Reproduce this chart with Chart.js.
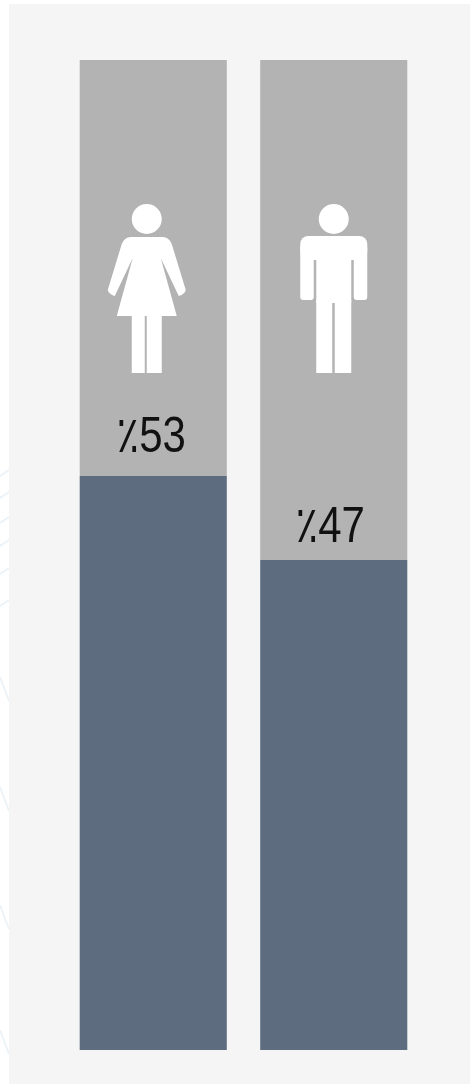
<!DOCTYPE html>
<html>
<head>
<meta charset="utf-8">
<style>
  html, body { margin: 0; padding: 0; background: #ffffff; }
  #panel { position: absolute; left: 9px; top: 4px; width: 461px; height: 1080px; background: #f5f5f5; }
  #wrap { position: absolute; left: 0; top: 0; width: 470px; height: 1084px; }
</style>
<script src="https://cdn.jsdelivr.net/npm/chart.js@4"></script>
</head>
<body>
<div id="panel"></div>
<div id="wrap"><canvas id="myChart"></canvas></div>
<script>
const categories = ['female', 'male'];
const shareValues = [53, 47];
const restValues = [29.7, 35.7];
const shareLabels = ['٪53', '٪47'];

const AXIS_MIN = 12;
const AXIS_MAX = 82.7;

function drawWoman(ctx, cx, top) {
    ctx.beginPath();
    ctx.arc(cx, top + 14, 15, 0, Math.PI * 2);
    ctx.fill();
    ctx.beginPath();
    ctx.moveTo(cx - 16, top + 32);
    ctx.lineTo(cx + 16, top + 32);
    ctx.quadraticCurveTo(cx + 22, top + 32, cx + 25, top + 39);
    ctx.lineTo(cx + 39, top + 85);
    ctx.quadraticCurveTo(cx + 38, top + 89, cx + 32, top + 91);
    ctx.lineTo(cx + 14, top + 53);
    ctx.lineTo(cx + 30, top + 111);
    ctx.lineTo(cx - 30, top + 111);
    ctx.lineTo(cx - 14, top + 53);
    ctx.lineTo(cx - 32, top + 91);
    ctx.quadraticCurveTo(cx - 38, top + 89, cx - 39, top + 85);
    ctx.lineTo(cx - 25, top + 39);
    ctx.quadraticCurveTo(cx - 22, top + 32, cx - 16, top + 32);
    ctx.fill();
    ctx.fillRect(cx - 15, top + 110, 13, 58);
    ctx.fillRect(cx, top + 110, 15, 58);
}

function drawMan(ctx, cx, top) {
    ctx.beginPath();
    ctx.arc(cx, top + 14, 15, 0, Math.PI * 2);
    ctx.fill();
    ctx.beginPath();
    ctx.roundRect(cx - 33.5, top + 31, 67, 24, 8);
    ctx.fill();
    ctx.beginPath();
    ctx.roundRect(cx - 33.5, top + 40, 13.5, 55, 3);
    ctx.roundRect(cx + 20, top + 40, 13.5, 55, 3);
    ctx.fill();
    ctx.fillRect(cx - 17.5, top + 40, 35, 58);
    ctx.fillRect(cx - 17.5, top + 95, 16, 73);
    ctx.fillRect(cx + 1, top + 95, 16.5, 73);
}

// labels are narrower than any installed face, so squeeze them a bit
function drawShare(ctx, text, x, y) {
    ctx.save();
    ctx.translate(x, y);
    ctx.scale(0.84, 1);
    ctx.fillText(text, 0, 0);
    ctx.restore();
}

const barDecor = {
    id: 'barDecor',
    beforeDraw(chart) {
        const ctx = chart.ctx;
        ctx.save();
        ctx.strokeStyle = '#ecf3f8';
        ctx.lineWidth = 2;
        [470, 492, 517, 540, 568, 600].forEach(function (y) {
            ctx.beginPath();
            ctx.moveTo(0, y + 6);
            ctx.lineTo(9, y);
            ctx.stroke();
        });
        [677, 787, 905, 1030].forEach(function (y) {
            ctx.beginPath();
            ctx.moveTo(0, y);
            ctx.lineTo(9, y + 24);
            ctx.stroke();
        });
        ctx.restore();
    },
    afterDatasetsDraw(chart) {
        const ctx = chart.ctx;
        const bars = chart.getDatasetMeta(0).data;
        ctx.save();
        ctx.fillStyle = '#ffffff';
        drawWoman(ctx, bars[0].x - 6.5, 205);
        drawMan(ctx, bars[1].x, 205);
        ctx.fillStyle = '#111111';
        ctx.font = '50px "Liberation Sans", "DejaVu Sans"';
        ctx.letterSpacing = '3px';
        ctx.textAlign = 'center';
        ctx.textBaseline = 'alphabetic';
        ctx.direction = 'ltr';
        drawShare(ctx, shareLabels[0], bars[0].x - 2, bars[0].y - 24);
        drawShare(ctx, shareLabels[1], bars[1].x - 3.5, bars[1].y - 18);
        ctx.restore();
    }
};

new Chart(document.getElementById('myChart'), {
    type: 'bar',
    data: {
        labels: categories,
        datasets: [
            { data: shareValues, backgroundColor: '#5d6d7f', borderWidth: 0 },
            { data: restValues, backgroundColor: '#b3b3b3', borderWidth: 0 }
        ]
    },
    options: {
        responsive: true,
        maintainAspectRatio: false,
        animation: false,
        layout: { padding: { left: 63, right: 46, top: 60, bottom: 34 } },
        datasets: { bar: { categoryPercentage: 0.815, barPercentage: 1 } },
        plugins: { legend: { display: false }, tooltip: { enabled: false } },
        scales: {
            x: { stacked: true, display: false },
            y: { stacked: true, display: false, min: AXIS_MIN, max: AXIS_MAX }
        }
    },
    plugins: [barDecor]
});
</script>
</body>
</html>
